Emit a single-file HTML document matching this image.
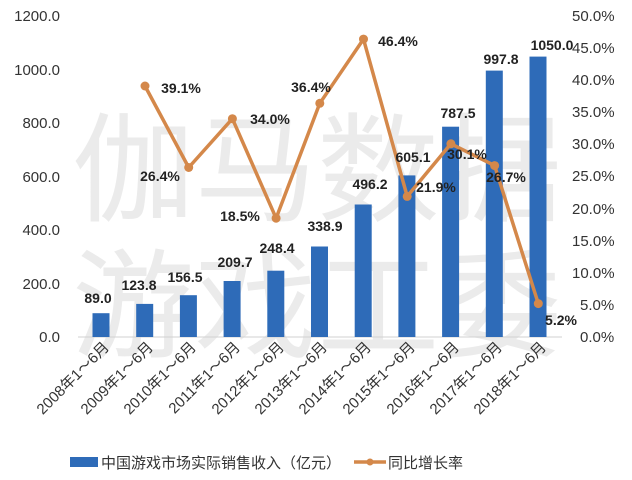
<!DOCTYPE html><html><head><meta charset="utf-8"><style>
body{margin:0;background:#fff}
svg{display:block;font-family:"Liberation Sans","Noto Sans CJK SC",sans-serif}
.v{font-size:14px;font-weight:bold;fill:#222;text-anchor:middle}
.a{font-size:15px;fill:#333}
.x{font-size:15px;fill:#333}
</style></head><body>
<svg width="632" height="480" viewBox="0 0 632 480">
<g font-family="Noto Sans CJK SC,sans-serif" font-size="118" fill="#ebebeb">
<text x="72" y="212" textLength="490" lengthAdjust="spacingAndGlyphs">伽马数据</text>
<text x="72" y="348" textLength="490" lengthAdjust="spacingAndGlyphs">游戏工委</text>
</g>
<g class="a" text-anchor="end">
<text x="60" y="21">1200.0</text><text x="60" y="75">1000.0</text><text x="60" y="128">800.0</text>
<text x="60" y="182">600.0</text><text x="60" y="235">400.0</text><text x="60" y="289">200.0</text><text x="60" y="342">0.0</text>
</g>
<g class="a" text-anchor="start">
<text x="572" y="21">50.0%</text><text x="572" y="53">45.0%</text><text x="572" y="85">40.0%</text><text x="572" y="117">35.0%</text>
<text x="572" y="149">30.0%</text><text x="572" y="181">25.0%</text><text x="572" y="214">20.0%</text><text x="572" y="246">15.0%</text>
<text x="572" y="278">10.0%</text><text x="580" y="310">5.0%</text><text x="580" y="342">0.0%</text>
</g>
<line x1="78" y1="337" x2="562" y2="337" stroke="#d0d0d0"/>
<g fill="#2e6bb8">
<rect x="92.5" y="313.2" width="17" height="23.8"/>
<rect x="136.2" y="303.9" width="17" height="33.1"/>
<rect x="179.9" y="295.2" width="17" height="41.8"/>
<rect x="223.6" y="281" width="17" height="56"/>
<rect x="267.3" y="270.7" width="17" height="66.3"/>
<rect x="311" y="246.5" width="17" height="90.5"/>
<rect x="354.7" y="204.5" width="17" height="132.5"/>
<rect x="398.4" y="175.4" width="17" height="161.6"/>
<rect x="442.1" y="126.7" width="17" height="210.3"/>
<rect x="485.8" y="70.6" width="17" height="266.4"/>
<rect x="529.5" y="56.6" width="17" height="280.4"/>
</g>
<polyline fill="none" stroke="#d4884a" stroke-width="3.5" stroke-linejoin="round" points="145,86 188.7,167.5 232.4,118.7 276.1,218.2 319.8,103.3 363.5,39.1 407.2,196.4 450.9,143.8 494.6,165.6 538.3,303.6"/>
<g fill="#d4884a">
<circle cx="145" cy="86" r="4.5"/><circle cx="188.7" cy="167.5" r="4.5"/><circle cx="232.4" cy="118.7" r="4.5"/><circle cx="276.1" cy="218.2" r="4.5"/><circle cx="319.8" cy="103.3" r="4.5"/><circle cx="363.5" cy="39.1" r="4.5"/><circle cx="407.2" cy="196.4" r="4.5"/><circle cx="450.9" cy="143.8" r="4.5"/><circle cx="494.6" cy="165.6" r="4.5"/><circle cx="538.3" cy="303.6" r="4.5"/>
</g>
<g class="v">
<text x="98" y="303">89.0</text><text x="139" y="290">123.8</text><text x="185" y="282">156.5</text><text x="235" y="267">209.7</text>
<text x="277" y="253">248.4</text><text x="325" y="231">338.9</text><text x="370" y="189">496.2</text><text x="413" y="162">605.1</text>
<text x="458" y="118">787.5</text><text x="501" y="64">997.8</text><text x="552" y="50">1050.0</text>
<text x="181" y="93">39.1%</text><text x="160" y="181">26.4%</text><text x="270" y="124">34.0%</text><text x="240" y="221">18.5%</text>
<text x="311" y="92">36.4%</text><text x="398" y="46">46.4%</text><text x="436" y="192">21.9%</text><text x="467" y="159">30.1%</text>
<text x="506" y="182">26.7%</text><text x="561" y="325">5.2%</text>
</g>
<g class="x" text-anchor="end">
<text transform="translate(110,348) rotate(-45)">2008年1～6月</text>
<text transform="translate(154,348) rotate(-45)">2009年1～6月</text>
<text transform="translate(197,348) rotate(-45)">2010年1～6月</text>
<text transform="translate(241,348) rotate(-45)">2011年1～6月</text>
<text transform="translate(285,348) rotate(-45)">2012年1～6月</text>
<text transform="translate(328,348) rotate(-45)">2013年1～6月</text>
<text transform="translate(372,348) rotate(-45)">2014年1～6月</text>
<text transform="translate(416,348) rotate(-45)">2015年1～6月</text>
<text transform="translate(460,348) rotate(-45)">2016年1～6月</text>
<text transform="translate(503,348) rotate(-45)">2017年1～6月</text>
<text transform="translate(547,348) rotate(-45)">2018年1～6月</text>
</g>
<rect x="70" y="457" width="28" height="10" fill="#2e6bb8"/>
<text x="101" y="468" font-size="15" fill="#333">中国游戏市场实际销售收入（亿元）</text>
<line x1="354" y1="462" x2="386" y2="462" stroke="#d4884a" stroke-width="3.5"/>
<circle cx="370" cy="462" r="3.5" fill="#d4884a"/>
<text x="388" y="468" font-size="15" fill="#333">同比增长率</text>
</svg>
</body></html>
